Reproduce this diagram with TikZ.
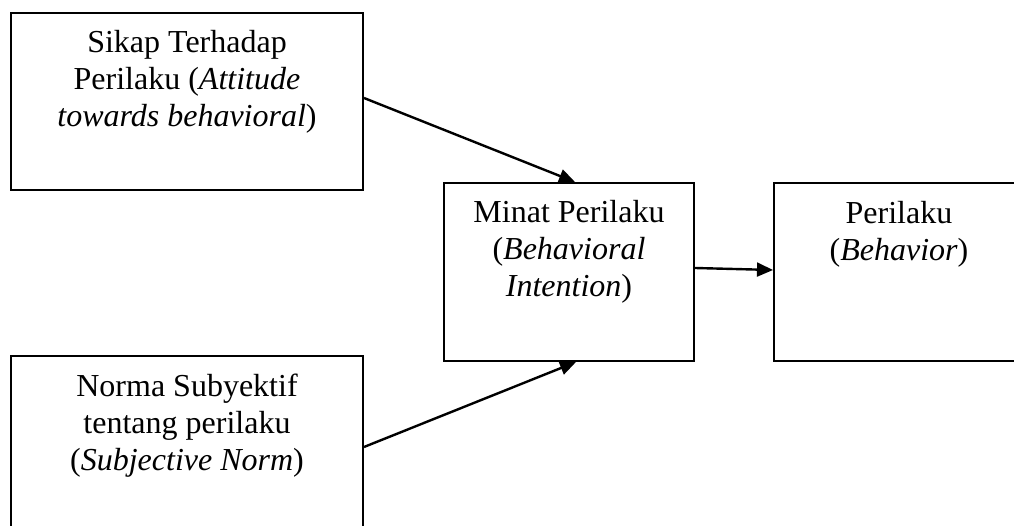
\documentclass[tikz,border=0pt]{standalone}
\usepackage{fontspec}
\setmainfont{Liberation Serif}
\usepackage{tikz}
\usetikzlibrary{arrows.meta,calc,positioning}

\tikzset{
    kotak/.style={draw, line width=0.75pt, inner sep=0pt, minimum width=132pt, minimum height=66.4pt},
    kotakkecil/.style={kotak, minimum width=93.75pt, minimum height=66.75pt},
    teks/.style={font=\fontsize{12}{13.9}\selectfont, align=center, inner sep=0pt},
    panah/.style={line width=0.9pt, -{Triangle[length=6pt, width=5.2pt]}}
}

\begin{document}
\begin{tikzpicture}[x=0.375pt, y=-0.375pt]
    \useasboundingbox (0,0) rectangle (1014,526);

    % The four boxes
    \node[kotak] (sikap) at (187,101.5) {};
    \node[kotak] (norma) at (187,444.5) {};
    \node[kotakkecil] (minat) at (569,272) {};
    \node[kotakkecil] (perilaku) at (899,272.5) {};

    % Texts at the top of each box
    \node[teks, below=6.8pt of sikap.north] (sikapteks) {Sikap Terhadap\\Perilaku (\textit{Attitude}\\\textit{towards behavioral})};
    \node[teks, below=6.8pt of norma.north] (normateks) {Norma Subyektif\\tentang perilaku\\(\textit{Subjective Norm})};
    \node[teks, below=6.8pt of minat.north] (minatteks) {Minat Perilaku\\(\textit{Behavioral}\\\textit{Intention})};
    \node[teks, below=6.8pt of perilaku.north] (perilakuteks) {Perilaku\\(\textit{Behavior})};

    % Arrows
    \draw[panah] ($(sikap.east)+(0,-3.5)$) -- ($(minat.north)+(6,0)$);
    \draw[panah] ($(norma.east)+(0,2.5)$) -- ($(minat.south)+(7,0)$);
    \draw[panah] ($(minat.east)+(0,-4)$) -- ($(perilaku.west)+(0,-2.5)$);
\end{tikzpicture}
\end{document}
